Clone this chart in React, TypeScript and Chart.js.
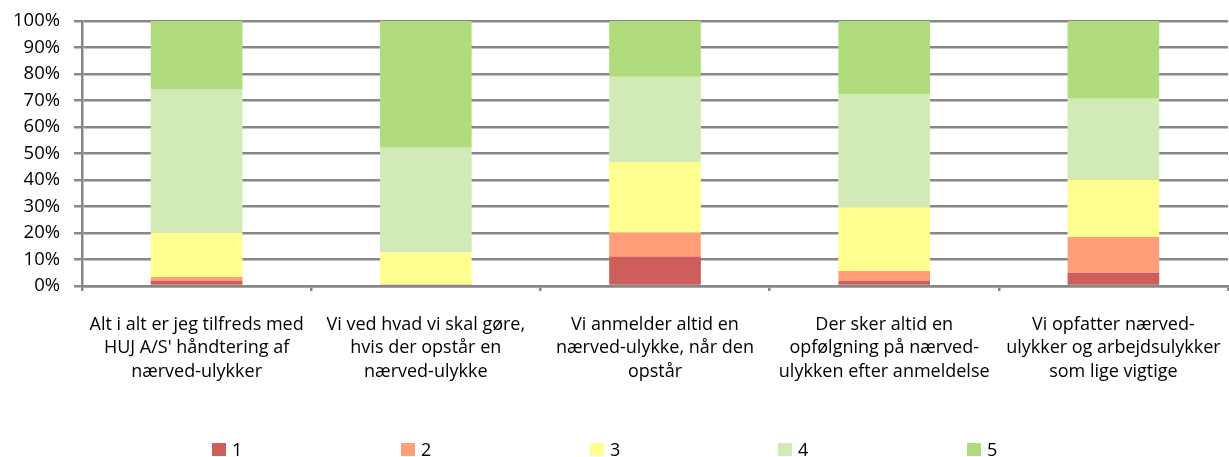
import React, { useEffect, useRef } from "react";
import { Chart, registerables } from "chart.js";

Chart.register(...registerables);

const categories: string[][] = [
  ["Alt i alt er jeg tilfreds med", "HUJ A/S' håndtering af", "nærved-ulykker"],
  ["Vi ved hvad vi skal gøre,", "hvis der opstår en", "nærved-ulykke"],
  ["Vi anmelder altid en", "nærved-ulykke, når den", "opstår"],
  ["Der sker altid en", "opfølgning på nærved-", "ulykken efter anmeldelse"],
  ["Vi opfatter nærved-", "ulykker og arbejdsulykker", "som lige vigtige"],
];

const seriesNames = ["1", "2", "3", "4", "5"];
const values1 = [1.9, 0.6, 11.1, 2.0, 5.0];
const values2 = [1.5, 0.0, 9.0, 3.7, 13.5];
const values3 = [16.6, 12.0, 26.7, 24.0, 21.8];
const values4 = [54.3, 39.6, 32.2, 42.6, 30.4];
const values5 = [25.7, 47.8, 21.0, 27.7, 29.3];
const seriesColors = ["#CD5E5A", "#FF9E78", "#FFFF8F", "#D2EBB6", "#B0DC7D"];
const yTicks = [0, 10, 20, 30, 40, 50, 60, 70, 80, 90, 100];

const FONT = "'Open Sans', Lato, sans-serif";
const GRID = "#878787";

export default function App() {
  const ref = useRef<HTMLCanvasElement | null>(null);

  useEffect(() => {
    if (!ref.current) return;
    const all = [values1, values2, values3, values4, values5];
    const chart = new Chart(ref.current, {
      type: "bar",
      data: {
        labels: categories,
        datasets: all.map((vals, i) => ({
          label: seriesNames[i],
          data: vals,
          backgroundColor: seriesColors[i],
          borderWidth: 0,
          barPercentage: 0.4,
          categoryPercentage: 1.0,
        })),
      },
      options: {
        animation: false,
        responsive: false,
        maintainAspectRatio: false,
        layout: { padding: { left: 0, right: 1, top: 21, bottom: 0 } },
        plugins: {
          legend: { display: false },
          tooltip: { enabled: false },
        },
        scales: {
          x: {
            stacked: true,
            afterFit: (s: any) => {
              s.height = 171;
              s.paddingLeft = 0;
              s.paddingRight = 0;
            },
            grid: {
              display: true,
              drawOnChartArea: false,
              drawTicks: true,
              tickLength: 5,
              offset: true,
              color: GRID,
              lineWidth: 2.5,
            },
            border: { display: true, color: GRID, width: 2.5 },
            ticks: {
              autoSkip: false,
              maxRotation: 0,
              minRotation: 0,
              padding: 22,
              color: "#000",
              font: { family: FONT, size: 18, lineHeight: "23.5px" as any },
            },
          },
          y: {
            stacked: true,
            min: 0,
            max: 100,
            afterFit: (s: any) => {
              s.width = 82;
              s.paddingTop = 0;
              s.paddingBottom = 0;
            },
            afterBuildTicks: (s: any) => {
              s.ticks = yTicks.map((v) => ({ value: v }));
            },
            grid: {
              color: GRID,
              lineWidth: 2.5,
              tickLength: 8,
              drawTicks: true,
            },
            border: { display: true, color: GRID, width: 2.5 },
            ticks: {
              padding: 14,
              color: "#000",
              font: { family: FONT, size: 18.5 },
              callback: (v: any) => v + "%",
            },
          },
        },
      },
    });
    return () => chart.destroy();
  }, []);

  return (
    <div style={{ position: "fixed", left: 0, top: 0, width: 1229, height: 457, background: "#fff", overflow: "hidden" }}>
      <canvas ref={ref} width={1229} height={457} style={{ display: "block" }} />
      {seriesNames.map((n, i) => (
        <div
          key={n}
          style={{
            position: "absolute",
            left: [212, 401, 590, 778, 967][i],
            top: 438,
            height: 22,
            display: "flex",
            alignItems: "center",
            fontFamily: FONT,
            fontSize: 18,
            color: "#000",
          }}
        >
          <span style={{ display: "inline-block", width: 14, height: 13, background: seriesColors[i], marginRight: 6 }} />
          <span>{n}</span>
        </div>
      ))}
    </div>
  );
}
